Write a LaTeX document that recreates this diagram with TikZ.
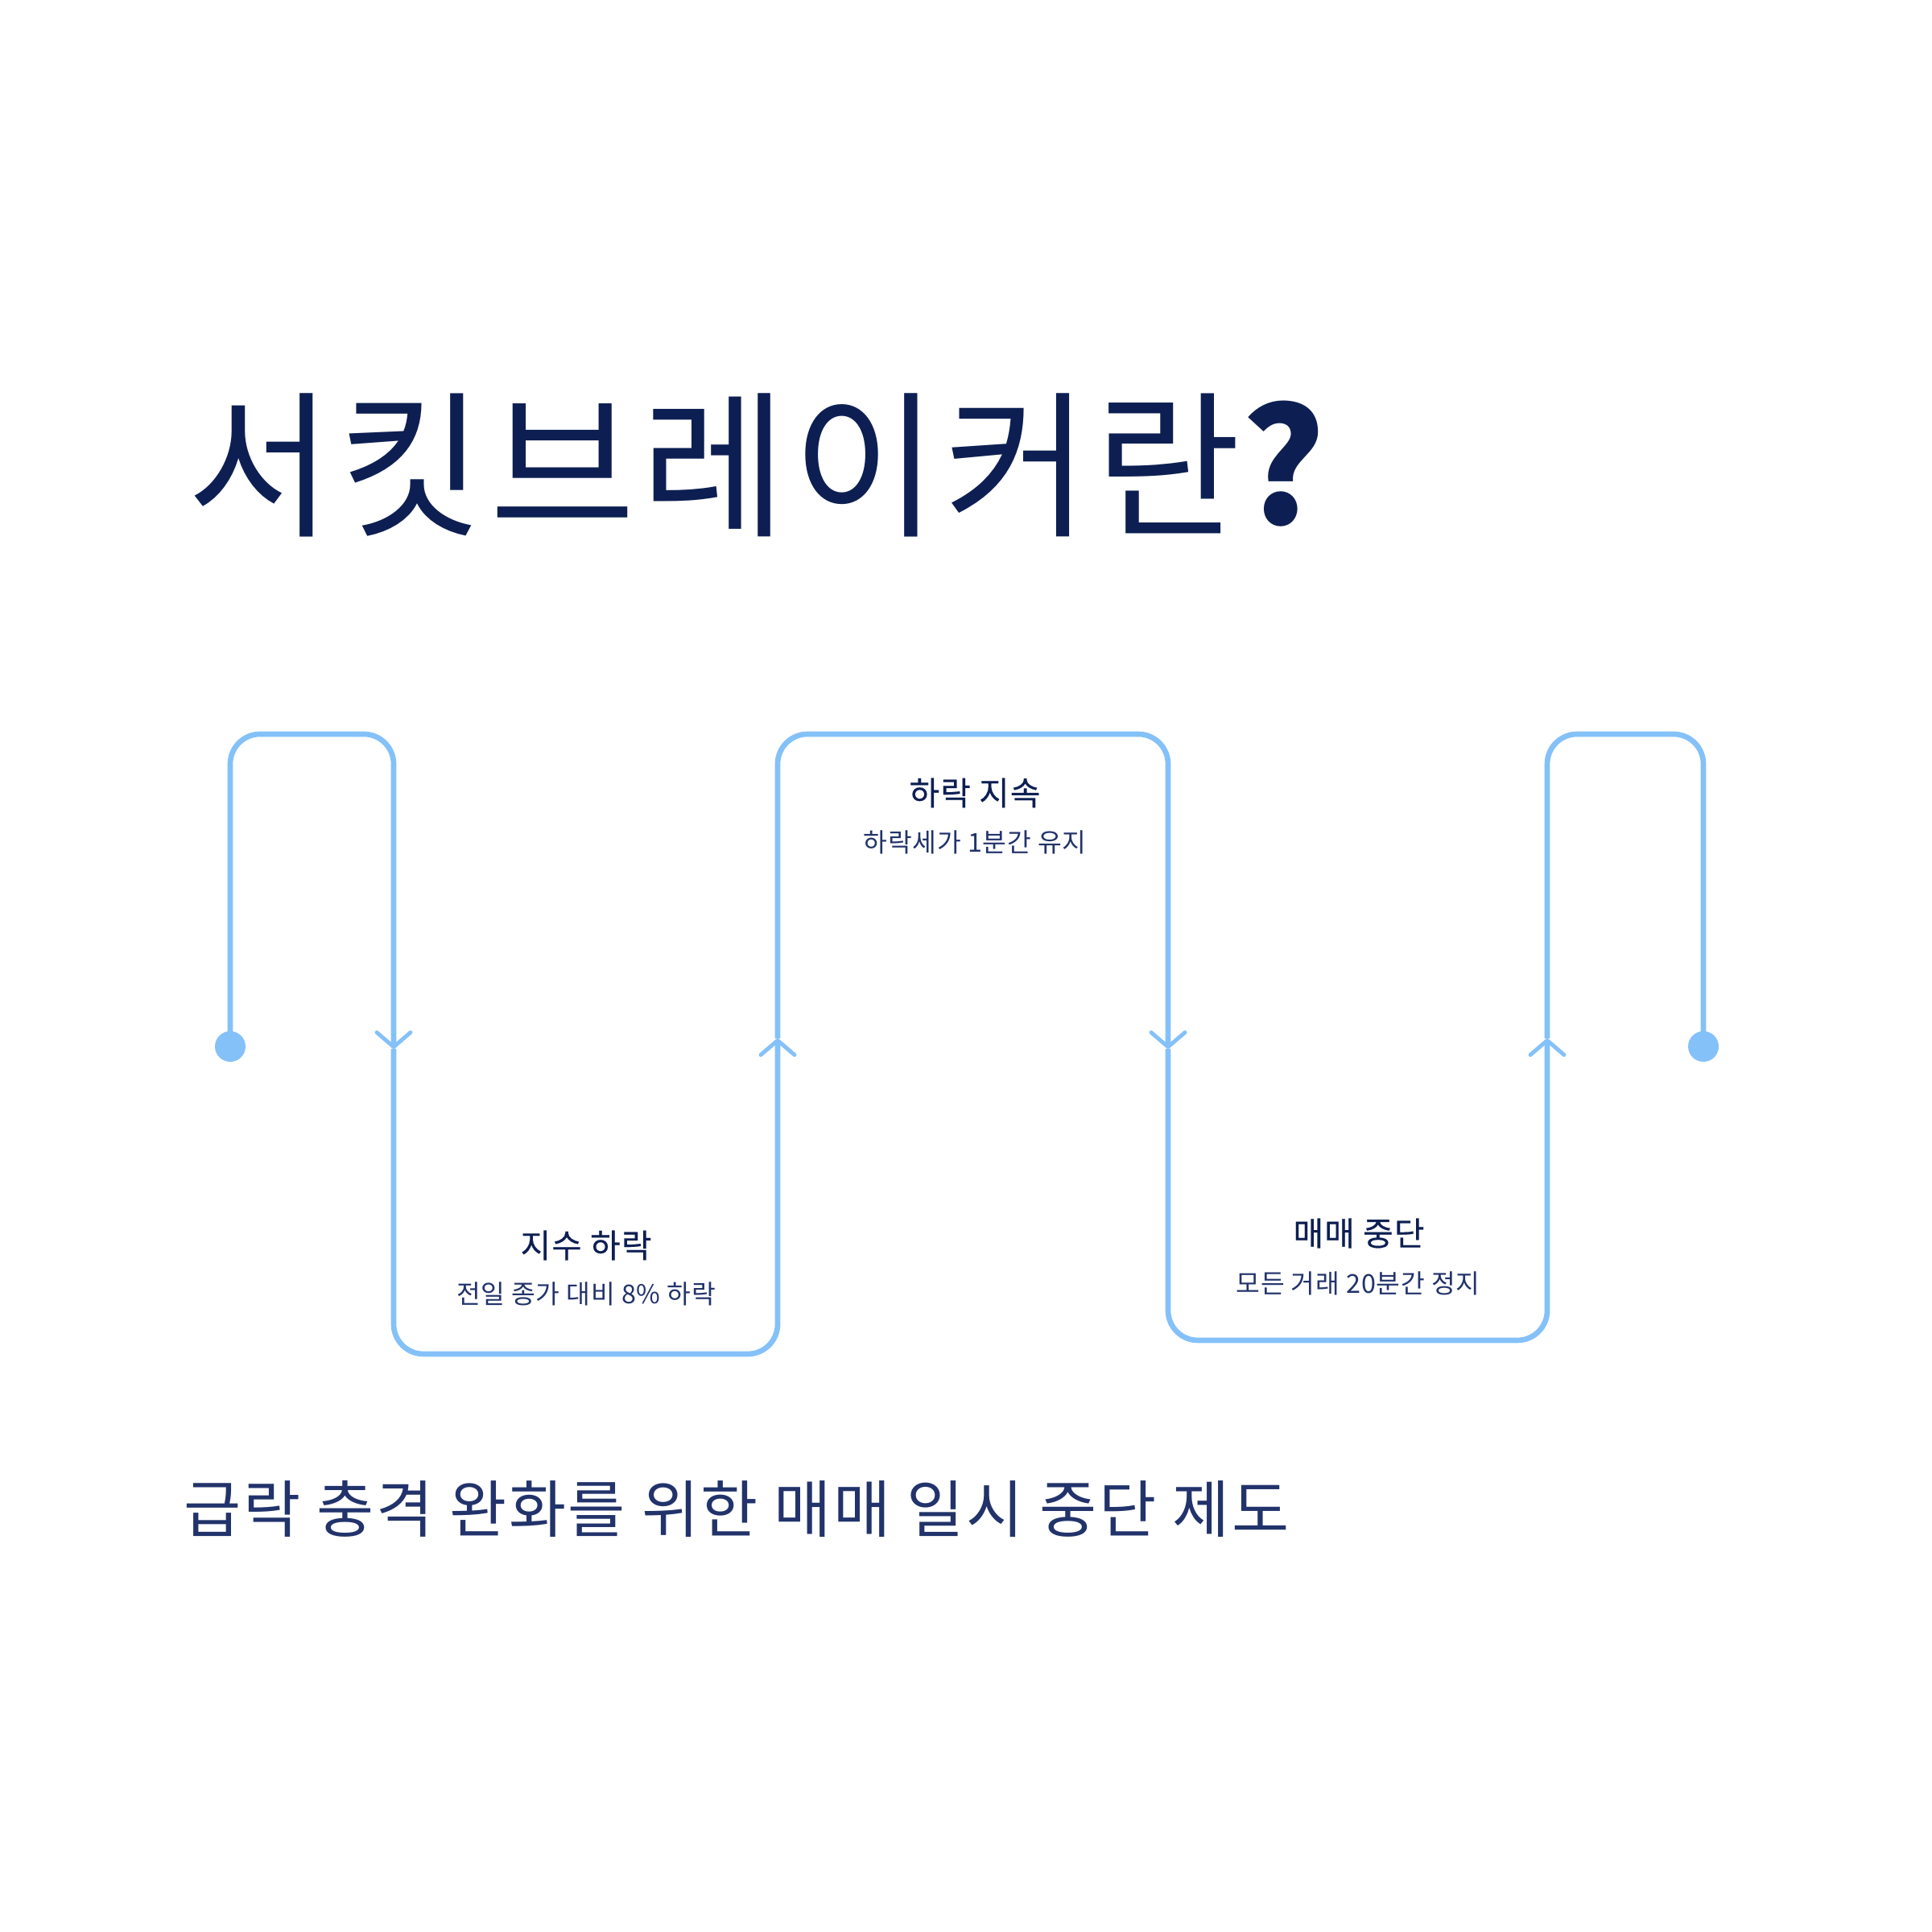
\documentclass[tikz,border=0pt]{standalone}
\usepackage{fontspec}
\setmainfont{Noto Sans CJK KR}
\newfontfamily\titlefont[LetterSpace=3.5]{Noto Sans CJK KR}
\newfontfamily\leadfont[LetterSpace=3.4]{Noto Sans CJK KR}
\newfontfamily\bodyfont[LetterSpace=2.5]{Noto Sans CJK KR}
\newfontfamily\headfont[FakeBold=0.35, LetterSpace=3]{Noto Sans CJK KR}
\usetikzlibrary{arrows.meta}

\definecolor{inkNavy}{HTML}{0D1F52}
\definecolor{subNavy}{HTML}{22336B}
\definecolor{pathBlue}{HTML}{85C1F9}

\begin{document}
\begin{tikzpicture}[x=1cm, y=1cm,
    flow/.style={draw=pathBlue, line width=1.9pt, rounded corners=0.37cm},
    flowtip/.style={-{Straight Barb[length=1.8mm, width=4.2mm, line width=1.4pt, round]}},
    head/.style={font=\headfont\fontsize{11.6}{14}\selectfont, text=inkNavy, inner sep=0pt},
    note/.style={font=\bodyfont\fontsize{9.2}{11}\selectfont, text=subNavy, inner sep=0pt}]

  % Canvas
  \fill[white] (0, 0) rectangle (24, 24);
  \useasboundingbox (0, 0) rectangle (24, 24);

  % Title
  \node[anchor=west, inner sep=0pt, font=\titlefont\fontsize{56}{62}\selectfont, text=inkNavy] (title) at (2.32, 18.22) {서킷브레이커란{\bfseries ?}};

  % 1. PATH POINTS
  \coordinate (start)  at (2.86, 11.00);
  \coordinate (downA)  at (4.89, 10.97);
  \coordinate (upB)    at (9.66, 11.10);
  \coordinate (downC)  at (14.51, 10.97);
  \coordinate (upD)    at (19.22, 11.10);
  \coordinate (finish) at (21.16, 11.00);

  % 2. WINDING LINE
  \draw[flow, flowtip] (start) -- ++(0, 3.88) -| (downA);
  \draw[flow, flowtip] (downA) -- ++(0, -3.79) -| (upB);
  \draw[flow, flowtip] (upB) -- ++(0, 3.78) -| (downC);
  \draw[flow, flowtip] (downC) -- ++(0, -3.62) -| (upD);
  \draw[flow] (upD) -- ++(0, 3.78) -| (finish);
  \fill[pathBlue] (start) circle (0.19);
  \fill[pathBlue] (finish) circle (0.19);

  % 3. STEP LABELS
  \node[head] (dropHead) at (7.28, 8.53) {지수 하락};
  \node[note] (dropNote) at (7.28, 7.93) {전일 종가 대비 8\% 하락};

  \node[head] (holdHead) at (12.11, 14.15) {하락 지속};
  \node[note] (holdNote) at (12.11, 13.54) {하락세가 1분간 유지};

  \node[head] (haltHead) at (16.88, 8.68) {매매 중단};
  \node[note] (haltNote) at (16.87, 8.06) {모든 거래 20분간 정지};

  % Subtitle
  \node[anchor=west, inner sep=0pt, font=\leadfont\fontsize{22}{26}\selectfont, text=subNavy] (subtitle) at (2.28, 5.25) {급락 충격 완화를 위한 매매 일시 중단 제도};

\end{tikzpicture}
\end{document}
